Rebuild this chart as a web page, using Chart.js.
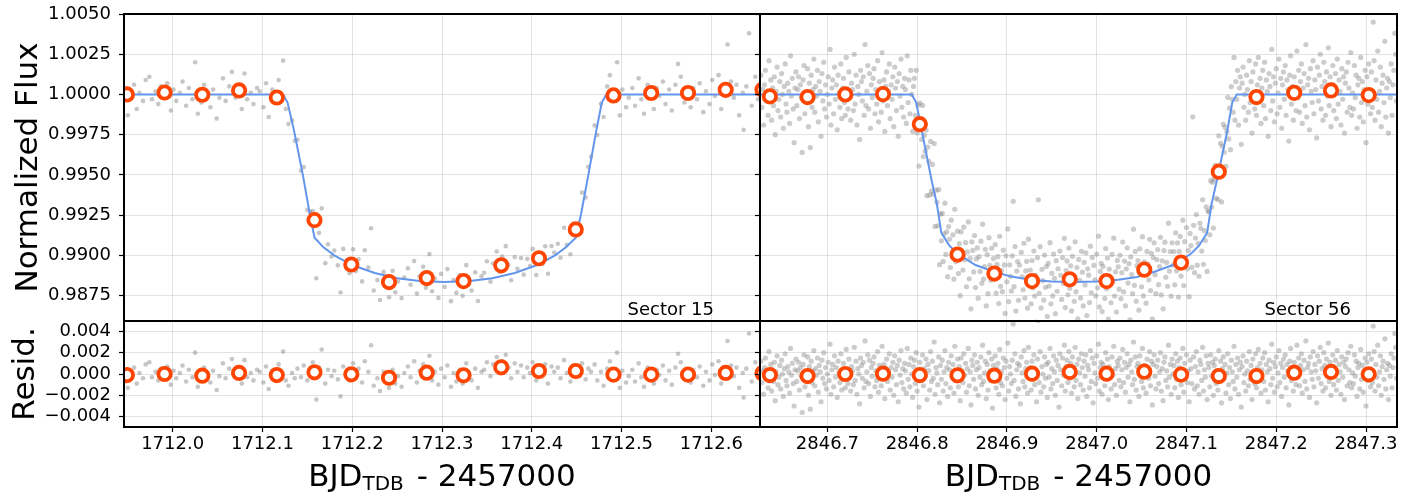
<!DOCTYPE html>
<html><head><meta charset="utf-8">
<script src="https://cdn.jsdelivr.net/npm/chart.js@4.4.1/dist/chart.umd.min.js"></script>
<style>
html,body{margin:0;padding:0;background:#fff;}
#wrap{position:relative;width:1415px;height:493px;overflow:hidden;background:#fff}
#wrap canvas{position:absolute;left:0;top:0}
</style></head>
<body><div id="wrap">
<canvas id="cA" width="1415" height="493"></canvas>
<canvas id="cB" width="1415" height="493"></canvas>
<canvas id="cC" width="1415" height="493"></canvas>
<canvas id="cD" width="1415" height="493"></canvas>
</div>
<script>
// ---------------- DATA ----------------
const s15XTicks = [1712.0, 1712.1, 1712.2, 1712.3, 1712.4, 1712.5, 1712.6];
const s56XTicks = [2846.7, 2846.8, 2846.9, 2847.0, 2847.1, 2847.2, 2847.3];
const fluxTicks = [0.9875, 0.99, 0.9925, 0.995, 0.9975, 1.0, 1.0025, 1.005];
const residTicks = [-0.004, -0.002, 0.0, 0.002, 0.004];

// transit model (blue line)
const s15ModelTime = [1711.940, 1712.123, 1712.128, 1712.135, 1712.145, 1712.153, 1712.158, 1712.168, 1712.180, 1712.200, 1712.225, 1712.250, 1712.275, 1712.303, 1712.331, 1712.356, 1712.381, 1712.406, 1712.426, 1712.438, 1712.449, 1712.455, 1712.463, 1712.472, 1712.478, 1712.483, 1712.660];
const s15ModelFlux = [1.0, 1.0, 0.9995, 0.9978, 0.9950, 0.9925, 0.9911, 0.9905, 0.9900, 0.9894, 0.9889, 0.98858, 0.98840, 0.98834, 0.98840, 0.98858, 0.9889, 0.9894, 0.9900, 0.9905, 0.9911, 0.9926, 0.9950, 0.9978, 0.9995, 1.0, 1.0];
const s56ModelTime = [2846.620, 2846.794, 2846.799, 2846.805, 2846.816, 2846.822, 2846.827, 2846.836, 2846.845, 2846.865, 2846.885, 2846.905, 2846.926, 2846.950, 2846.975, 2847.000, 2847.024, 2847.045, 2847.065, 2847.085, 2847.105, 2847.114, 2847.123, 2847.128, 2847.134, 2847.145, 2847.151, 2847.156, 2847.340];
const s56ModelFlux = [1.0, 1.0, 0.9995, 0.9978, 0.9947, 0.9932, 0.9914, 0.9906, 0.9901, 0.9894, 0.9890, 0.98868, 0.98849, 0.98838, 0.98834, 0.98838, 0.98849, 0.98866, 0.9890, 0.9894, 0.9901, 0.9906, 0.9914, 0.9932, 0.9947, 0.9976, 0.9995, 1.0, 1.0];

// 1-hour binned points (orange circles)
const s15BinTime = [1711.949, 1711.991, 1712.033, 1712.074, 1712.116, 1712.158, 1712.199, 1712.241, 1712.283, 1712.324, 1712.366, 1712.408, 1712.449, 1712.491, 1712.533, 1712.574, 1712.616, 1712.657];
const s15BinFlux = [1.0000, 1.00012, 0.99998, 1.00025, 0.99981, 0.99219, 0.98943, 0.98834, 0.98859, 0.98840, 0.98938, 0.98982, 0.99161, 0.99994, 1.00009, 1.00009, 1.00029, 1.0003];
const s15BinResid = [-0.0001, 0.0000, -0.00016, 0.0001, -0.0001, 0.00016, -0.00003, -0.00035, 0.00012, -0.00012, 0.00063, 0.00028, 0.00028, -0.00006, -0.00006, -0.00006, 0.0001, 0.00007];
const s56BinTime = [2846.636, 2846.678, 2846.720, 2846.762, 2846.803, 2846.845, 2846.886, 2846.928, 2846.970, 2847.011, 2847.053, 2847.094, 2847.136, 2847.178, 2847.220, 2847.261, 2847.303];
const s56BinFlux = [0.99988, 0.99984, 1.0000, 1.00002, 0.99815, 0.99005, 0.98887, 0.98840, 0.98851, 0.98840, 0.98911, 0.98955, 0.99520, 0.99984, 1.00010, 1.00025, 0.99996];
const s56BinResid = [-0.0001, -0.00019, 0.0, 0.00003, -0.0001, -0.00012, -0.00016, 0.00003, 0.00019, 0.00003, 0.00022, -0.00006, -0.00019, -0.00019, 0.00012, 0.00019, -0.00003];

// unbinned observations: [time, residual from model] (grey dots); flux = model + residual
const s15Obs = [
[1711.947,0.0004],[1711.950,-0.0013],[1711.953,-0.0002],[1711.957,0.0006],[1711.960,-0.0009],[1711.963,0.0001],[1711.967,-0.0004],[1711.970,0.0009],
[1711.974,0.0011],[1711.977,-0.0003],[1711.981,0.0002],[1711.984,-0.0006],[1711.987,0.0005],[1711.991,-0.0001],[1711.994,0.0007],[1711.998,-0.0010],[1712.001,0.0003],[1712.004,-0.0004],[1712.008,0.0001],[1712.011,0.0008],
[1712.015,-0.0007],[1712.018,0.0004],[1712.022,-0.0003],[1712.025,0.0020],[1712.028,-0.0012],[1712.032,-0.0005],[1712.035,0.0006],[1712.039,-0.0001],[1712.042,-0.0008],[1712.045,0.0003],[1712.049,-0.0015],[1712.052,-0.0002],
[1712.056,0.0010],[1712.059,-0.0004],[1712.063,0.0005],[1712.066,0.0014],[1712.070,-0.0002],[1712.073,0.0003],[1712.077,-0.0009],[1712.080,0.0013],[1712.083,-0.0003],[1712.087,0.0001],[1712.090,-0.0006],[1712.094,0.0004],
[1712.097,0.0002],[1712.101,-0.0008],[1712.104,0.0007],[1712.107,-0.0014],[1712.111,0.0003],[1712.114,-0.0005],[1712.118,0.0009],[1712.121,-0.0002],[1712.123,0.0021],[1712.126,-0.0006],[1712.129,-0.0011],[1712.133,0.0001],[1712.136,-0.0004],
[1712.139,0.0005],[1712.143,-0.0003],[1712.146,0.0008],[1712.150,-0.0006],[1712.153,0.0002],[1712.156,0.0011],[1712.160,-0.0024],[1712.163,0.0006],[1712.166,0.0023],[1712.170,-0.0009],[1712.173,0.0004],[1712.177,-0.0002],
[1712.180,0.0003],[1712.184,-0.0005],[1712.187,-0.0021],[1712.190,0.0007],[1712.194,0.0001],[1712.197,-0.0006],[1712.201,0.0010],[1712.204,-0.0003],[1712.207,0.0005],[1712.211,-0.0008],[1712.214,0.0012],[1712.218,0.0002],
[1712.221,0.0027],[1712.224,-0.0011],[1712.228,-0.0004],[1712.231,-0.0016],[1712.235,0.0002],[1712.238,-0.0007],[1712.241,-0.0013],[1712.245,0.0004],[1712.248,-0.0009],[1712.251,-0.0002],[1712.255,-0.0012],[1712.258,0.0001],
[1712.262,0.0007],[1712.265,-0.0003],[1712.269,0.0012],[1712.272,-0.0008],[1712.275,0.0003],[1712.279,0.0009],[1712.282,-0.0004],[1712.286,0.0017],[1712.289,-0.0006],[1712.292,0.0002],[1712.296,-0.0010],[1712.299,0.0005],
[1712.303,-0.0003],[1712.306,0.0008],[1712.310,-0.0012],[1712.313,0.0001],[1712.316,-0.0007],[1712.320,0.0004],[1712.323,-0.0009],[1712.327,0.0010],[1712.330,-0.0002],[1712.333,-0.0006],[1712.337,0.0005],[1712.340,-0.0013],[1712.344,0.0002],
[1712.347,0.0004],[1712.350,0.0011],[1712.354,-0.0002],[1712.357,0.0009],[1712.361,0.0016],[1712.364,0.0003],[1712.367,0.0012],[1712.371,0.0018],[1712.374,0.0006],[1712.377,-0.0004],[1712.381,0.0010],[1712.384,0.0002],
[1712.388,0.0008],[1712.391,-0.0003],[1712.395,0.0006],[1712.398,0.0001],[1712.401,0.0011],[1712.405,-0.0006],[1712.408,0.0004],[1712.412,-0.0001],[1712.415,0.0009],[1712.418,-0.0009],[1712.422,0.0007],[1712.425,0.0002],
[1712.429,0.0006],[1712.432,-0.0004],[1712.436,0.0013],[1712.439,0.0001],[1712.443,-0.0007],[1712.446,0.0008],[1712.449,0.0003],[1712.453,-0.0002],[1712.456,0.0010],[1712.460,-0.0005],[1712.463,0.0005],[1712.466,0.0002],
[1712.470,0.0009],[1712.473,-0.0006],[1712.477,0.0002],[1712.480,-0.0011],[1712.484,0.0005],[1712.487,0.0012],[1712.490,-0.0004],[1712.494,0.0001],[1712.495,0.0020],[1712.498,-0.0013],[1712.501,0.0003],[1712.505,-0.0008],[1712.508,-0.0002],
[1712.512,0.0004],[1712.515,-0.0007],[1712.519,0.0010],[1712.522,-0.0003],[1712.525,-0.0012],[1712.529,0.0006],[1712.532,0.0001],[1712.536,-0.0009],[1712.539,0.0004],[1712.542,-0.0001],[1712.546,0.0008],[1712.549,-0.0006],
[1712.553,0.0003],[1712.556,-0.0010],[1712.560,0.0006],[1712.563,0.0019],[1712.566,0.0011],[1712.570,-0.0005],[1712.573,-0.0002],[1712.577,-0.0008],[1712.580,0.0004],[1712.584,-0.0003],[1712.587,0.0007],[1712.591,-0.0011],
[1712.594,0.0002],[1712.598,-0.0006],[1712.601,0.0009],[1712.604,-0.0001],[1712.608,0.0012],[1712.611,-0.0009],[1712.615,0.0003],[1712.618,0.0031],[1712.622,0.0008],[1712.625,-0.0002],[1712.628,0.0006],[1712.631,-0.0013],[1712.635,0.0001],
[1712.636,-0.0022],[1712.639,0.0005],[1712.642,0.0038],[1712.645,-0.0007],[1712.649,0.0011],[1712.652,-0.0003]
];
const s56Obs = [
[2846.626,0.0012],[2846.627,-0.0008],[2846.628,0.0003],[2846.629,-0.0019],[2846.630,0.0006],[2846.631,0.0015],[2846.632,-0.0004],[2846.633,0.0001],[2846.634,-0.0013],[2846.635,0.0021],[2846.636,-0.0002],[2846.637,0.0009],[2846.638,-0.0016],[2846.639,0.0004],[2846.640,-0.0007],[2846.641,0.0011],[2846.642,-0.0025],[2846.643,0.0002],[2846.644,0.0017],[2846.645,-0.0010],
[2846.646,-0.0003],[2846.647,0.0008],[2846.648,-0.0014],[2846.649,0.0013],[2846.650,0.0000],[2846.651,-0.0021],[2846.652,0.0005],[2846.653,0.0019],[2846.654,-0.0006],[2846.655,-0.0011],[2846.656,0.0007],[2846.657,0.0002],[2846.658,-0.0018],[2846.659,0.0024],[2846.660,-0.0001],[2846.661,0.0010],[2846.662,-0.0009],[2846.663,-0.0030],[2846.664,0.0004],[2846.665,0.0014],
[2846.666,-0.0007],[2846.667,0.0003],[2846.668,0.0011],[2846.669,-0.0015],[2846.670,0.0006],[2846.671,-0.0002],[2846.672,-0.0036],[2846.673,0.0009],[2846.674,0.0018],[2846.675,-0.0012],[2846.676,0.0001],[2846.677,-0.0005],[2846.678,0.0016],[2846.679,-0.0020],[2846.680,0.0007],[2846.681,-0.0033],[2846.682,0.0012],[2846.683,-0.0008],[2846.684,0.0003],[2846.685,0.0022],
[2846.686,-0.0011],[2846.687,0.0005],[2846.688,-0.0001],[2846.689,0.0015],[2846.690,-0.0017],[2846.691,0.0008],[2846.692,0.0002],[2846.693,-0.0026],[2846.694,0.0013],[2846.695,-0.0004],[2846.696,0.0020],[2846.697,-0.0009],[2846.698,0.0006],[2846.699,-0.0014],[2846.700,0.0000],[2846.701,0.0011],[2846.702,-0.0006],[2846.703,0.0028],[2846.704,-0.0019],[2846.705,0.0004],
[2846.706,0.0009],[2846.707,-0.0012],[2846.708,0.0017],[2846.709,-0.0003],[2846.710,0.0006],[2846.711,-0.0022],[2846.712,0.0012],[2846.713,0.0001],[2846.714,-0.0008],[2846.715,0.0019],[2846.716,-0.0015],[2846.717,0.0004],[2846.718,0.0010],[2846.719,-0.0005],[2846.720,-0.0013],[2846.721,0.0023],[2846.722,0.0002],[2846.723,-0.0009],[2846.724,0.0014],[2846.725,-0.0001],
[2846.726,-0.0016],[2846.727,0.0007],[2846.728,0.0003],[2846.729,-0.0010],[2846.730,0.0025],[2846.731,-0.0006],[2846.732,0.0012],[2846.733,-0.0019],[2846.734,0.0005],[2846.735,0.0000],[2846.736,-0.0028],[2846.737,0.0015],[2846.738,0.0008],[2846.739,-0.0004],[2846.740,0.0011],[2846.741,-0.0013],[2846.742,0.0031],[2846.743,-0.0007],[2846.744,0.0002],[2846.745,0.0018],
[2846.746,-0.0009],[2846.747,0.0013],[2846.748,-0.0021],[2846.749,0.0006],[2846.750,-0.0002],[2846.751,0.0010],[2846.752,0.0016],[2846.753,-0.0012],[2846.754,0.0003],[2846.755,-0.0006],[2846.756,0.0021],[2846.757,-0.0017],[2846.758,0.0008],[2846.759,0.0001],[2846.760,-0.0011],[2846.761,0.0026],[2846.762,-0.0004],[2846.763,0.0009],[2846.764,-0.0023],[2846.765,0.0005],
[2846.766,0.0014],[2846.767,-0.0007],[2846.768,0.0002],[2846.769,0.0019],[2846.770,-0.0015],[2846.771,0.0006],[2846.772,-0.0003],[2846.773,0.0011],[2846.774,-0.0020],[2846.775,0.0017],[2846.776,0.0004],[2846.777,-0.0010],[2846.778,0.0008],[2846.779,-0.0026],[2846.780,0.0013],[2846.781,-0.0001],[2846.782,0.0022],[2846.783,-0.0008],[2846.784,0.0005],[2846.785,-0.0014],
[2846.786,0.0010],[2846.787,0.0003],[2846.788,-0.0018],[2846.789,0.0024],[2846.790,-0.0005],[2846.791,0.0009],[2846.792,-0.0012],[2846.793,0.0015],[2846.794,0.0000],[2846.795,-0.0022],[2846.796,0.0007],[2846.797,0.0013],[2846.798,-0.0009],[2846.799,0.0020],[2846.800,-0.0016],[2846.801,0.0004],[2846.802,-0.0031],[2846.803,0.0011],[2846.804,0.0002],[2846.805,-0.0006],
[2846.806,0.0018],[2846.807,-0.0011],[2846.808,0.0005],[2846.809,-0.0002],[2846.810,0.0014],[2846.811,-0.0024],[2846.812,0.0009],[2846.813,0.0003],[2846.814,-0.0015],[2846.815,0.0021],[2846.816,-0.0007],[2846.817,0.0012],[2846.818,-0.0004],[2846.819,0.0030],[2846.820,-0.0019],[2846.821,0.0006],[2846.822,0.0001],[2846.823,-0.0010],[2846.824,0.0016],[2846.825,-0.0027],
[2846.826,0.0008],[2846.827,-0.0005],[2846.828,0.0013],[2846.829,-0.0016],[2846.830,0.0002],[2846.831,0.0022],[2846.832,-0.0009],[2846.833,0.0006],[2846.834,-0.0021],[2846.835,0.0011],[2846.836,0.0004],[2846.837,-0.0013],[2846.838,0.0017],[2846.839,-0.0003],[2846.840,0.0009],[2846.841,-0.0018],[2846.842,0.0026],[2846.843,-0.0006],[2846.844,0.0001],[2846.845,0.0014],
[2846.846,-0.0012],[2846.847,0.0007],[2846.848,-0.0025],[2846.849,0.0015],[2846.850,0.0003],[2846.851,-0.0008],[2846.852,0.0019],[2846.853,-0.0001],[2846.854,0.0010],[2846.855,-0.0017],[2846.856,0.0005],[2846.857,0.0024],[2846.858,-0.0011],[2846.859,0.0002],[2846.860,-0.0029],[2846.861,0.0013],[2846.862,0.0008],[2846.863,-0.0005],[2846.864,0.0018],[2846.865,-0.0014],
[2846.866,0.0004],[2846.867,0.0011],[2846.868,-0.0020],[2846.869,0.0006],[2846.870,-0.0003],[2846.871,0.0016],[2846.872,-0.0010],[2846.873,0.0027],[2846.874,-0.0007],[2846.875,0.0001],[2846.876,0.0012],[2846.877,-0.0023],[2846.878,0.0009],[2846.879,-0.0015],[2846.880,0.0020],[2846.881,0.0003],[2846.882,-0.0006],[2846.883,0.0014],[2846.884,-0.0032],[2846.885,0.0008],
[2846.886,-0.0002],[2846.887,0.0017],[2846.888,-0.0013],[2846.889,0.0005],[2846.890,0.0010],[2846.891,-0.0019],[2846.892,0.0023],[2846.893,-0.0008],[2846.894,0.0002],[2846.895,-0.0011],[2846.896,0.0015],[2846.897,0.0006],[2846.898,-0.0024],[2846.899,0.0012],[2846.900,-0.0004],[2846.901,0.0029],[2846.902,-0.0016],[2846.903,0.0007],[2846.904,0.0000],[2846.905,-0.0009],
[2846.906,0.0013],[2846.907,0.0047],[2846.908,-0.0006],[2846.909,0.0019],[2846.910,-0.0021],[2846.911,0.0004],[2846.912,0.0010],[2846.913,-0.0014],[2846.914,0.0008],[2846.915,-0.0028],[2846.916,0.0016],[2846.917,0.0001],[2846.918,-0.0007],[2846.919,0.0022],[2846.920,-0.0012],[2846.921,0.0005],[2846.922,0.0011],[2846.923,-0.0018],[2846.924,0.0025],[2846.925,-0.0003],
[2846.926,0.0006],[2846.927,-0.0015],[2846.928,0.0012],[2846.929,-0.0005],[2846.930,0.0018],[2846.931,-0.0010],[2846.932,0.0003],[2846.933,-0.0026],[2846.934,0.0014],[2846.935,0.0050],[2846.936,-0.0008],[2846.937,0.0021],[2846.938,-0.0017],[2846.939,0.0007],[2846.940,0.0000],[2846.941,-0.0012],[2846.942,0.0016],[2846.943,-0.0004],[2846.944,0.0009],[2846.945,-0.0022],
[2846.946,0.0011],[2846.947,-0.0003],[2846.948,0.0024],[2846.949,-0.0014],[2846.950,0.0005],[2846.951,-0.0009],[2846.952,0.0017],[2846.953,0.0002],[2846.954,-0.0020],[2846.955,0.0013],[2846.956,-0.0006],[2846.957,0.0008],[2846.958,-0.0031],[2846.959,0.0019],[2846.960,0.0004],[2846.961,-0.0011],[2846.962,0.0015],[2846.963,-0.0001],[2846.964,0.0027],[2846.965,-0.0016],
[2846.966,0.0007],[2846.967,0.0013],[2846.968,-0.0008],[2846.969,0.0021],[2846.970,-0.0004],[2846.971,0.0010],[2846.972,-0.0018],[2846.973,0.0016],[2846.974,0.0003],[2846.975,-0.0012],[2846.976,0.0025],[2846.977,-0.0006],[2846.978,0.0009],[2846.979,-0.0023],[2846.980,0.0014],[2846.981,0.0001],[2846.982,-0.0010],[2846.983,0.0019],[2846.984,0.0006],[2846.985,-0.0015],
[2846.986,0.0012],[2846.987,-0.0002],[2846.988,0.0018],[2846.989,-0.0021],[2846.990,0.0008],[2846.991,0.0004],[2846.992,-0.0013],[2846.993,0.0022],[2846.994,-0.0007],[2846.995,0.0015],[2846.996,-0.0027],[2846.997,0.0010],[2846.998,0.0001],[2846.999,-0.0009],[2847.000,0.0017],[2847.001,-0.0004],[2847.002,0.0028],[2847.003,-0.0016],[2847.004,0.0006],[2847.005,0.0011],
[2847.006,-0.0019],[2847.007,0.0009],[2847.008,0.0003],[2847.009,-0.0011],[2847.010,0.0020],[2847.011,-0.0005],[2847.012,0.0014],[2847.013,-0.0024],[2847.014,0.0007],[2847.015,0.0002],[2847.016,-0.0014],[2847.017,0.0016],[2847.018,-0.0001],[2847.019,0.0026],[2847.020,-0.0010],[2847.021,0.0005],[2847.022,-0.0020],[2847.023,0.0012],[2847.024,0.0008],[2847.025,-0.0006],
[2847.026,0.0015],[2847.027,-0.0012],[2847.028,0.0004],[2847.029,0.0023],[2847.030,-0.0008],[2847.031,0.0011],[2847.032,-0.0017],[2847.033,0.0006],[2847.034,0.0019],[2847.035,-0.0003],[2847.036,0.0009],[2847.037,-0.0026],[2847.038,0.0013],[2847.039,0.0002],[2847.040,-0.0010],[2847.041,0.0030],[2847.042,-0.0005],[2847.043,0.0016],[2847.044,-0.0015],[2847.045,0.0007],
[2847.046,0.0010],[2847.047,-0.0021],[2847.048,0.0017],[2847.049,0.0003],[2847.050,-0.0007],[2847.051,0.0024],[2847.052,-0.0013],[2847.053,0.0008],[2847.054,0.0001],[2847.055,-0.0018],[2847.056,0.0014],[2847.057,0.0006],[2847.058,-0.0004],[2847.059,0.0021],[2847.060,-0.0011],[2847.061,0.0012],[2847.062,-0.0029],[2847.063,0.0009],[2847.064,0.0018],[2847.065,-0.0002],
[2847.066,-0.0014],[2847.067,0.0007],[2847.068,0.0013],[2847.069,-0.0009],[2847.070,0.0002],[2847.071,0.0020],[2847.072,-0.0016],[2847.073,0.0005],[2847.074,-0.0025],[2847.075,0.0011],[2847.076,0.0016],[2847.077,-0.0006],[2847.078,0.0003],[2847.079,-0.0012],[2847.080,0.0027],[2847.081,-0.0003],[2847.082,0.0009],[2847.083,-0.0019],[2847.084,0.0014],[2847.085,0.0000],
[2847.086,0.0008],[2847.087,-0.0013],[2847.088,0.0019],[2847.089,-0.0005],[2847.090,0.0012],[2847.091,-0.0022],[2847.092,0.0006],[2847.093,0.0015],[2847.094,-0.0010],[2847.095,0.0001],[2847.096,0.0024],[2847.097,-0.0017],[2847.098,0.0010],[2847.099,-0.0004],[2847.100,0.0018],[2847.101,-0.0008],[2847.102,0.0003],[2847.103,-0.0026],[2847.104,0.0013],[2847.105,0.0005],
[2847.106,-0.0009],[2847.107,0.0084],[2847.108,0.0016],[2847.109,-0.0014],[2847.110,0.0007],[2847.111,0.0021],[2847.112,-0.0011],[2847.113,0.0002],[2847.114,-0.0019],[2847.115,0.0013],[2847.116,0.0009],[2847.117,-0.0006],[2847.118,0.0025],[2847.119,-0.0016],[2847.120,0.0004],[2847.121,-0.0003],[2847.122,0.0017],[2847.123,-0.0024],[2847.124,0.0010],[2847.125,0.0006],
[2847.126,-0.0012],[2847.127,0.0018],[2847.128,-0.0002],[2847.129,0.0011],[2847.130,-0.0020],[2847.131,0.0008],[2847.132,0.0014],[2847.133,-0.0009],[2847.134,0.0003],[2847.135,-0.0015],[2847.136,0.0022],[2847.137,-0.0006],[2847.138,0.0012],[2847.139,-0.0027],[2847.140,0.0005],[2847.141,0.0016],[2847.142,-0.0004],[2847.143,0.0009],[2847.144,-0.0018],[2847.145,0.0001],
[2847.146,0.0019],[2847.147,-0.0010],[2847.148,0.0006],[2847.149,-0.0023],[2847.150,0.0013],[2847.151,0.0002],[2847.152,-0.0007],[2847.153,0.0026],[2847.154,-0.0014],[2847.155,0.0009],[2847.156,-0.0003],[2847.157,0.0015],[2847.158,-0.0019],[2847.159,0.0004],[2847.160,0.0011],[2847.161,-0.0031],[2847.162,0.0007],[2847.163,0.0017],[2847.164,-0.0008],[2847.165,0.0000],
[2847.166,-0.0016],[2847.167,0.0012],[2847.168,0.0003],[2847.169,-0.0011],[2847.170,0.0021],[2847.171,-0.0005],[2847.172,0.0008],[2847.173,-0.0024],[2847.174,0.0014],[2847.175,0.0001],[2847.176,-0.0009],[2847.177,0.0019],[2847.178,-0.0013],[2847.179,0.0006],[2847.180,0.0023],[2847.181,-0.0002],[2847.182,0.0010],[2847.183,-0.0018],[2847.184,0.0004],[2847.185,0.0015],
[2847.186,-0.0007],[2847.187,0.0020],[2847.188,-0.0015],[2847.189,0.0009],[2847.190,0.0002],[2847.191,-0.0026],[2847.192,0.0013],[2847.193,0.0005],[2847.194,-0.0010],[2847.195,0.0028],[2847.196,-0.0004],[2847.197,0.0011],[2847.198,-0.0017],[2847.199,0.0007],[2847.200,0.0016],[2847.201,-0.0012],[2847.202,0.0001],[2847.203,0.0022],[2847.204,-0.0008],[2847.205,0.0010],
[2847.206,-0.0021],[2847.207,0.0006],[2847.208,0.0014],[2847.209,-0.0003],[2847.210,0.0018],[2847.211,-0.0013],[2847.212,0.0009],[2847.213,0.0003],[2847.214,-0.0029],[2847.215,0.0012],[2847.216,0.0024],[2847.217,-0.0006],[2847.218,0.0005],[2847.219,-0.0016],[2847.220,0.0011],[2847.221,0.0001],[2847.222,-0.0010],[2847.223,0.0027],[2847.224,-0.0002],[2847.225,0.0015],
[2847.226,-0.0011],[2847.227,0.0008],[2847.228,0.0019],[2847.229,-0.0018],[2847.230,0.0004],[2847.231,0.0013],[2847.232,-0.0007],[2847.233,0.0031],[2847.234,-0.0014],[2847.235,0.0006],[2847.236,0.0010],[2847.237,-0.0022],[2847.238,0.0016],[2847.239,0.0002],[2847.240,-0.0005],[2847.241,0.0021],[2847.242,-0.0012],[2847.243,0.0009],[2847.244,0.0003],[2847.245,-0.0027],
[2847.246,0.0017],[2847.247,-0.0004],[2847.248,0.0012],[2847.249,0.0025],[2847.250,-0.0009],[2847.251,0.0005],[2847.252,-0.0016],[2847.253,0.0020],[2847.254,0.0008],[2847.255,-0.0013],[2847.256,0.0014],[2847.257,-0.0001],[2847.258,0.0029],[2847.259,-0.0007],[2847.260,0.0011],[2847.261,-0.0020],[2847.262,0.0006],[2847.263,0.0018],[2847.264,-0.0010],[2847.265,0.0003],
[2847.266,0.0013],[2847.267,-0.0015],[2847.268,0.0022],[2847.269,-0.0006],[2847.270,0.0009],[2847.271,0.0002],[2847.272,-0.0019],[2847.273,0.0016],[2847.274,-0.0003],[2847.275,0.0011],[2847.276,-0.0024],[2847.277,0.0007],[2847.278,0.0014],[2847.279,-0.0011],[2847.280,0.0020],[2847.281,0.0004],[2847.282,-0.0008],[2847.283,0.0026],[2847.284,-0.0013],[2847.285,0.0001],
[2847.286,-0.0009],[2847.287,0.0018],[2847.288,-0.0002],[2847.289,0.0012],[2847.290,-0.0021],[2847.291,0.0006],[2847.292,0.0010],[2847.293,-0.0014],[2847.294,0.0023],[2847.295,-0.0005],[2847.296,0.0008],[2847.297,-0.0017],[2847.298,0.0003],[2847.299,0.0015],[2847.300,-0.0030],[2847.301,0.0011],[2847.302,-0.0006],[2847.303,0.0019],[2847.304,0.0000],[2847.305,-0.0012],
[2847.306,0.0014],[2847.307,-0.0008],[2847.308,0.0045],[2847.309,0.0021],[2847.310,-0.0016],[2847.311,0.0009],[2847.312,-0.0003],[2847.313,0.0027],[2847.314,-0.0011],[2847.315,0.0002],[2847.316,0.0017],[2847.317,-0.0020],[2847.318,0.0007],[2847.319,0.0012],[2847.320,-0.0005],[2847.321,0.0033],[2847.322,-0.0014],[2847.323,0.0004],[2847.324,0.0010],[2847.325,-0.0024],
[2847.326,0.0008],[2847.327,-0.0002],[2847.328,0.0019],[2847.329,-0.0013],[2847.330,0.0006],[2847.331,0.0015],[2847.332,0.0038],[2847.333,0.0025],[2847.334,-0.0004]
];

// ---------------- DRAWING ----------------
const FONT = "'DejaVu Sans'";
const W = 1415, H = 493;
const GRID = 'rgba(0,0,0,0.11)';
const ORANGE = '#ff4500';
const BLUE = '#6495ed';
const XAXIS_H = 40;
Chart.defaults.font.family = FONT;

function modelAt(ts, fs, t) {
  if (t <= ts[0]) return fs[0];
  for (let i = 1; i < ts.length; i++) {
    if (t <= ts[i]) { const f = (t - ts[i-1]) / (ts[i] - ts[i-1]); return fs[i-1] + f * (fs[i] - fs[i-1]); }
  }
  return fs[fs.length - 1];
}
const zip = (xs, ys) => xs.map((x, i) => ({x, y: ys[i]}));

function greySet(pts, alpha, r) {
  return {data: pts, pointRadius: r, pointBorderWidth: 0, pointBackgroundColor: 'rgba(128,128,128,' + alpha + ')', showLine: false, clip: 0, order: 3};
}
function modelSet(pts) {
  return {data: pts, showLine: true, borderColor: BLUE, borderWidth: 2, pointRadius: 0, tension: 0, clip: 0, order: 2};
}
function binSet(pts) {
  return {data: pts, pointRadius: 6.2, pointBorderWidth: 3.8, pointBorderColor: ORANGE, pointBackgroundColor: '#ffffff', showLine: false, clip: 0, order: 1};
}

const fmtFlux = v => v.toFixed(4);
const fmtRes = v => (v < -1e-9 ? '\u2212' : '') + Math.abs(v).toFixed(3);

function drawXTitle(ctx, cx, base) {
  const big = "31px 'DejaVu Sans'", small = "20px 'DejaVu Sans'";
  ctx.save();
  ctx.fillStyle = '#000'; ctx.textAlign = 'left'; ctx.textBaseline = 'alphabetic';
  ctx.font = big; const w1 = ctx.measureText('BJD').width; const w3 = ctx.measureText(' - 2457000').width;
  ctx.font = small; const w2 = ctx.measureText('TDB').width;
  const gap = 3;
  let x = cx - (w1 + w2 + gap + w3) / 2;
  ctx.font = big; ctx.fillText('BJD', x, base); x += w1;
  ctx.font = small; ctx.fillText('TDB', x, base + 4); x += w2 + gap;
  ctx.font = big; ctx.fillText(' - 2457000', x, base);
  ctx.restore();
}
function drawYTitle(ctx, text, xBase, cy) {
  ctx.save();
  ctx.fillStyle = '#000'; ctx.font = "31px 'DejaVu Sans'";
  ctx.textAlign = 'center'; ctx.textBaseline = 'alphabetic';
  ctx.translate(xBase, cy); ctx.rotate(-Math.PI / 2);
  ctx.fillText(text, 0, 0);
  ctx.restore();
}
function drawSector(ctx, text, xr, base) {
  ctx.save(); ctx.fillStyle = '#000'; ctx.font = "18px 'DejaVu Sans'";
  ctx.textAlign = 'right'; ctx.textBaseline = 'alphabetic';
  ctx.fillText(text, xr, base); ctx.restore();
}

function panel(id, area, xr, yr, xTicks, yTicks, xLabels, yLabels, yFmt, datasets, extra) {
  const xh = xLabels ? XAXIS_H : 0;
  return new Chart(document.getElementById(id), {
    type: 'scatter',
    data: {datasets},
    options: {
      responsive: false, animation: false, events: [],
      layout: {padding: {left: 0, top: area.t, right: W - area.r, bottom: H - area.b - xh}},
      plugins: {legend: {display: false}, tooltip: {enabled: false}, title: {display: false}},
      scales: {
        x: {
          type: 'linear', position: 'bottom', min: xr[0], max: xr[1],
          afterBuildTicks: a => { a.ticks = xTicks.map(v => ({value: v})); },
          afterFit: s => { s.height = xh; s.paddingLeft = 0; s.paddingRight = 0; },
          grid: {color: GRID, lineWidth: 1, drawTicks: xLabels, tickLength: 5, tickColor: '#000', tickWidth: 1.2},
          border: {display: false},
          ticks: {display: xLabels, autoSkip: false, maxRotation: 0, minRotation: 0, padding: 2, color: '#000', font: {family: FONT, size: 18}, callback: v => v.toFixed(1)}
        },
        y: {
          type: 'linear', position: 'left', min: yr[0], max: yr[1],
          afterBuildTicks: a => { a.ticks = yTicks.map(v => ({value: v})); },
          afterFit: s => { s.width = area.l; s.paddingTop = 0; s.paddingBottom = 0; },
          grid: {color: GRID, lineWidth: 1, drawTicks: true, tickLength: 5, tickColor: '#000', tickWidth: 1.2},
          border: {display: false},
          ticks: {display: yLabels, autoSkip: false, padding: 8, color: '#000', font: {family: FONT, size: 18}, callback: yFmt}
        }
      }
    },
    plugins: [{
      id: 'frame_' + id,
      afterDatasetsDraw(chart) {
        const {ctx, chartArea: a} = chart;
        ctx.save(); ctx.strokeStyle = '#000'; ctx.lineWidth = 2;
        ctx.strokeRect(a.left, a.top, a.right - a.left, a.bottom - a.top);
        ctx.restore();
      },
      afterDraw(chart) { if (extra) extra(chart.ctx); }
    }]
  });
}

const s15X = [1711.9458, 1712.6542], s56X = [2846.625, 2847.3345];
const fluxY = [0.98592, 1.0050], resY = [-0.00497, 0.00497];

const s15Flux = s15Obs.map(([t, r]) => ({x: t, y: modelAt(s15ModelTime, s15ModelFlux, t) + r}));
const s15Res = s15Obs.map(([t, r]) => ({x: t, y: r}));
const s56Flux = s56Obs.map(([t, r]) => ({x: t, y: modelAt(s56ModelTime, s56ModelFlux, t) + r}));
const s56Res = s56Obs.map(([t, r]) => ({x: t, y: r}));

panel('cA', {l: 124, t: 14, r: 760, b: 321}, s15X, fluxY, s15XTicks, fluxTicks, false, true, fmtFlux,
  [greySet(s15Flux, 0.45, 2.3), modelSet(zip(s15ModelTime, s15ModelFlux)), binSet(zip(s15BinTime, s15BinFlux))],
  ctx => { drawYTitle(ctx, 'Normalized Flux', 37, 167.5); drawSector(ctx, 'Sector 15', 714, 315); });

panel('cB', {l: 760, t: 14, r: 1397, b: 321}, s56X, fluxY, s56XTicks, fluxTicks, false, false, fmtFlux,
  [greySet(s56Flux, 0.4, 2.6), modelSet(zip(s56ModelTime, s56ModelFlux)), binSet(zip(s56BinTime, s56BinFlux))],
  ctx => { drawSector(ctx, 'Sector 56', 1351, 315); });

panel('cC', {l: 124, t: 321, r: 760, b: 427}, s15X, resY, s15XTicks, residTicks, true, true, fmtRes,
  [greySet(s15Res, 0.45, 2.3), binSet(zip(s15BinTime, s15BinResid))],
  ctx => { drawYTitle(ctx, 'Resid.', 34, 374); drawXTitle(ctx, 442, 485.5); });

panel('cD', {l: 760, t: 321, r: 1397, b: 427}, s56X, resY, s56XTicks, residTicks, true, false, fmtRes,
  [greySet(s56Res, 0.4, 2.6), binSet(zip(s56BinTime, s56BinResid))],
  ctx => { drawXTitle(ctx, 1078.5, 485.5); });
</script>
</body></html>
